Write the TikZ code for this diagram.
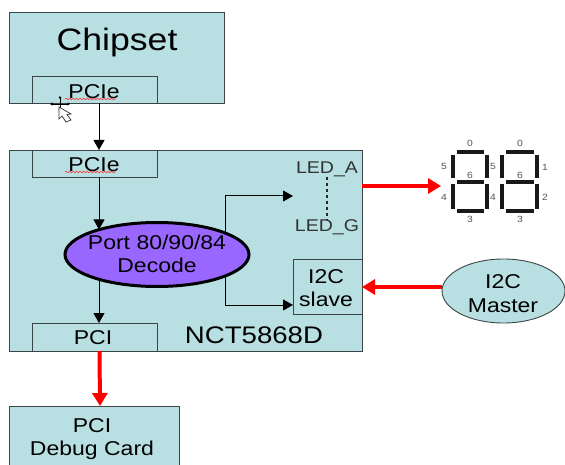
\documentclass[tikz,border=0pt]{standalone}
\usepackage{fontspec}
\setmainfont[FakeStretch=1.15]{Liberation Sans}
\usetikzlibrary{arrows.meta,shapes.geometric,decorations.pathmorphing}
\definecolor{boxfill}{HTML}{B8DFE2}
\definecolor{boxline}{HTML}{3C4446}
\definecolor{ovalfill}{HTML}{9966FF}
\definecolor{segtext}{HTML}{555555}
\tikzset{
  x=1pt,y=-1pt,
  blockbox/.style={draw=boxline,fill=boxfill,line width=.9pt,inner sep=0pt,outer sep=0pt,rectangle},
  lbl/.style={inner sep=0pt,outer sep=0pt,align=center,text=black},
  txtXL/.style={lbl,font=\fontsize{31}{35}\selectfont},
  txtL/.style={lbl,font=\fontsize{20}{23.5}\selectfont},
  txtN/.style={lbl,font=\fontsize{24}{28}\selectfont},
  txtLed/.style={lbl,text=black!80,font=\fontsize{17}{20}\selectfont},
  blackarrow/.style={draw=black,line width=1pt,-{Triangle[length=10pt,width=11pt]}},
  redarrow/.style={draw=red,line width=4pt,-{Triangle[length=13pt,width=15pt]}},
  seg/.style={draw=black!90,line width=3.2pt},
  segnum/.style={lbl,text=segtext,font=\fontsize{9}{10}\selectfont},
  squiggle/.style={draw=red!75!white,line width=.7pt,decorate,decoration={snake,amplitude=.7pt,segment length=3.5pt}},
}
\begin{document}
\begin{tikzpicture}
\useasboundingbox (0,0) rectangle (565,465);
\clip (0,0) rectangle (565,465);
% boxes
\node[blockbox,minimum width=215pt,minimum height=91pt] (chip) at (116.5,57.5) {};
\node[blockbox,minimum width=125pt,minimum height=27pt] (chipP) at (94.5,89.5) {};
\node[blockbox,minimum width=353pt,minimum height=201pt] (nct) at (185.5,250.5) {};
\node[blockbox,minimum width=125pt,minimum height=27pt] (nctP) at (94.5,163.5) {};
\node[blockbox,minimum width=125pt,minimum height=28pt] (pci) at (94.5,337) {};
\node[blockbox,minimum width=69pt,minimum height=55pt] (slave) at (327.5,286.5) {};
\node[blockbox,minimum width=170pt,minimum height=80pt] (debug) at (94,446) {};
\node[blockbox,ellipse,minimum width=123pt,minimum height=64pt] (master) at (503.5,291) {};
\node[draw=black,line width=3pt,fill=ovalfill,ellipse,inner sep=0pt,minimum width=184pt,minimum height=64pt] (decode) at (157,254.5) {};
% text
\node[txtXL] (tChip) at (117,42) {Chipset};
\node[txtL] (tP1) at (94,91.5) {PCIe};
\node[txtL] (tP2) at (94,164.5) {PCIe};
\node[txtL] (tPci) at (93,338) {PCI};
\node[txtL] (tDec) at (157,254) {Port 80/90/84\\Decode};
\node[txtN] (tNct) at (254,335) {NCT5868D};
\node[txtLed] (ledA) at (327,169) {LED\_A};
\node[txtLed] (ledG) at (327,227) {LED\_G};
\node[txtL] (tSl) at (326,288) {I2C\\slave};
\node[txtL] (tMa) at (503,293.5) {I2C\\Master};
\node[txtL] (tDbg) at (92,439) {PCI\\Debug Card};
% spell-check squiggles
\draw[squiggle] (65,99) -- (116,99);
\draw[squiggle] (65,172) -- (116,172);
% connectors
\draw[blackarrow] ([xshift=4.5pt]chipP.south) -- ([xshift=4.5pt]nctP.north);
\draw[blackarrow] ([xshift=4.5pt]nctP.south) -- (99,229.5);
\draw[blackarrow] (99,279) -- ([xshift=4.5pt]pci.north);
\coordinate (split1) at (225,196);
\coordinate (split2) at (225,305);
\draw[blackarrow] (225,232) -- (split1) -- (293,196);
\draw[blackarrow] (225,277) -- (split2) -- (slave.west |- split2);
\draw[draw=black!85,line width=1.4pt,dash pattern=on 3pt off 3pt] (ledA.south) -- (ledG.north);
\coordinate (segL) at (441,186);
\draw[redarrow] (nct.east |- segL) -- (segL);
\draw[redarrow] (master.west |- 0,287) -- (slave.east |- 0,287);
\draw[redarrow] ([xshift=5pt]pci.south) -- ([xshift=6pt]debug.north);
% seven-segment digits
\draw[seg] (457,152) -- (484,152) (457,182) -- (484,182) (457,211) -- (484,211)
  (453,155) -- (453,178) (453,184) -- (453,209) (487,155) -- (487,178) (487,184) -- (487,209);
\draw[seg] (506,152) -- (534,152) (506,182) -- (534,182) (506,211) -- (534,211)
  (502,155) -- (502,178) (502,184) -- (502,209) (537,155) -- (537,178) (537,184) -- (537,209);
\foreach \xa/\ya/\ta in {470/143/0,444/166/5,493/166/5,470/175/6,444/197/4,493/197/4,470/219/3,
  520/143/0,520/175/6,545/167/1,545/197/2,520/219/3}
  \node[segnum] at (\xa,\ya) {\ta};
% mouse cursor
\draw[black,line width=.8pt,{Triangle[length=2.5pt,width=3pt]}-{Triangle[length=2.5pt,width=3pt]}] (50,104) -- (70,104);
\draw[black,line width=.8pt,{Triangle[length=2.5pt,width=3pt]}-{Triangle[length=2.5pt,width=3pt]}] (60,96) -- (60,112);
\draw[fill=white,draw=black!80,line width=.7pt] (59,107) -- (59,119) -- (62,116) -- (66,122) -- (71,120) -- (67,114.5) -- (71,114) -- cycle;
\end{tikzpicture}
\end{document}
